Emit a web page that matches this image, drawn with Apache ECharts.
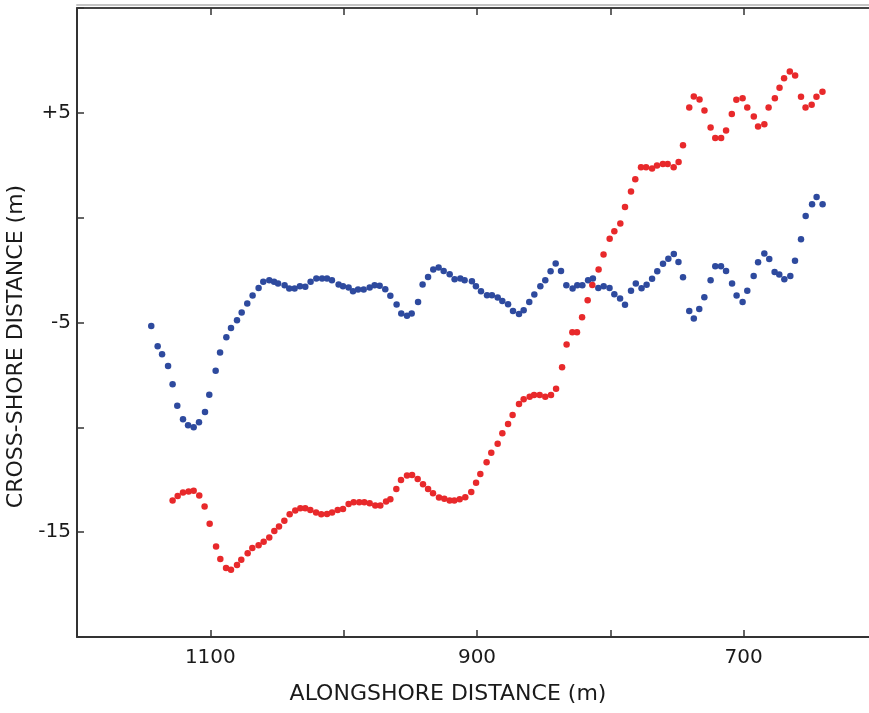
<!DOCTYPE html>
<html>
<head>
<meta charset="utf-8">
<script src="https://cdn.jsdelivr.net/npm/echarts@6/dist/echarts.min.js"></script>
<style>
html,body{margin:0;padding:0;background:#fff;}
#chart{width:869px;height:713px;}
</style>
</head>
<body>
<div id="chart"></div>
<script>
// Alongshore distance (m) and cross-shore distance (m) — blue series
const blueX = [1144.3,1139.5,1136.2,1131.7,1128.3,1124.8,1120.5,1116.7,1112.5,1108.5,1104,1100.8,1096,1092.7,1088,1084.5,1080,1076.5,1072.3,1068.3,1063.8,1060.3,1055.8,1052.2,1049.2,1044.3,1040.8,1036.8,1032.8,1028.8,1024.8,1020.5,1016.2,1012.5,1008.8,1003.8,1000.5,996.3,993,989.2,985,980.5,976.8,973,968.8,965,960.3,956.8,952.5,949,944.2,940.8,936.7,932.8,928.8,925,920.5,916.8,912.5,909.3,903.8,900.8,897,892.5,888.8,884.5,881,876.7,873,868.5,865,860.8,857,852.5,848.8,844.8,841,837,833,828.3,824.8,821,816.7,813.1,809,805,800.6,797,792.7,789,784.5,780.9,776.6,772.8,768.7,764.8,760.5,756.5,752.4,748.9,745.5,740.8,737.4,733.3,729.5,724.8,721.3,717,713.2,708.7,705.3,700.8,697.3,692.5,689.2,684.5,680.8,676.8,673.3,669.5,665,661.5,657,653.5,648.7,645.3,640.8];
const blueY = [-5.17,-6.13,-6.51,-7.08,-7.95,-8.97,-9.62,-9.90,-10.0,-9.76,-9.27,-8.45,-7.30,-6.43,-5.70,-5.26,-4.89,-4.52,-4.09,-3.71,-3.36,-3.06,-2.98,-3.06,-3.14,-3.22,-3.38,-3.38,-3.27,-3.30,-3.06,-2.90,-2.90,-2.90,-2.98,-3.19,-3.27,-3.33,-3.51,-3.43,-3.43,-3.33,-3.22,-3.25,-3.41,-3.73,-4.14,-4.57,-4.68,-4.57,-4.02,-3.19,-2.83,-2.47,-2.38,-2.54,-2.70,-2.94,-2.90,-2.98,-3.03,-3.27,-3.51,-3.70,-3.70,-3.81,-3.97,-4.13,-4.45,-4.60,-4.41,-4.02,-3.66,-3.27,-2.98,-2.55,-2.19,-2.54,-3.22,-3.38,-3.22,-3.22,-2.98,-2.90,-3.35,-3.27,-3.35,-3.65,-3.85,-4.15,-3.49,-3.14,-3.37,-3.20,-2.91,-2.56,-2.20,-1.96,-1.73,-2.11,-2.84,-4.45,-4.81,-4.36,-3.79,-2.98,-2.32,-2.32,-2.54,-3.14,-3.71,-4.02,-3.49,-2.78,-2.13,-1.71,-1.97,-2.59,-2.71,-2.94,-2.78,-2.05,-1.03,0.08,0.64,0.98,0.64];

// red series
const redX = [1128.3,1124.5,1120.5,1116.3,1112.5,1108.3,1104.3,1100.5,1095.7,1092.5,1088.2,1084.5,1080,1076.8,1072,1068.5,1063.8,1060,1055.8,1052,1048.5,1044.5,1040.5,1036.3,1032.5,1028.8,1025,1020.7,1016.8,1012.5,1008.7,1004.5,1000.5,996.3,992.5,988.3,984.5,980.5,976.3,972.5,968.2,965,960.5,957,952.5,948.7,944.5,940.5,936.7,933,928.5,924.5,920.5,917,913,908.8,904.3,900.7,897.5,892.8,889.3,884.5,881,876.7,873.3,868.5,865,860.5,857.2,853,848.8,844.5,840.7,836.2,832.8,828.5,825,821.2,817,813.5,808.8,805.1,800.5,797,792.5,789,784.5,781.3,777,773.2,768.7,765,760.6,757,752.5,748.8,745.5,740.8,737.4,733.1,729.4,724.8,721.3,716.9,713.2,708.9,705.5,700.8,697.3,692.4,689.2,684.5,681.3,676.6,673.1,669.7,665.4,661.4,657,653.6,649,645.4,640.9];
const redY = [-13.49,-13.27,-13.11,-13.06,-13.03,-13.25,-13.78,-14.60,-15.68,-16.28,-16.71,-16.79,-16.57,-16.32,-16.00,-15.76,-15.62,-15.46,-15.25,-14.95,-14.73,-14.45,-14.14,-13.97,-13.86,-13.86,-13.94,-14.06,-14.14,-14.13,-14.06,-13.94,-13.89,-13.66,-13.57,-13.57,-13.57,-13.62,-13.73,-13.73,-13.54,-13.43,-12.94,-12.51,-12.30,-12.27,-12.47,-12.71,-12.94,-13.14,-13.35,-13.41,-13.49,-13.49,-13.43,-13.33,-13.09,-12.64,-12.22,-11.67,-11.21,-10.78,-10.28,-9.84,-9.41,-8.89,-8.66,-8.54,-8.46,-8.46,-8.54,-8.46,-8.16,-7.14,-6.05,-5.46,-5.46,-4.75,-3.94,-3.21,-2.47,-1.76,-1.01,-0.65,-0.28,0.51,1.25,1.83,2.41,2.41,2.34,2.49,2.56,2.56,2.40,2.65,3.45,5.25,5.78,5.63,5.11,4.30,3.80,3.80,4.16,4.95,5.62,5.69,5.26,4.83,4.35,4.45,5.25,5.70,6.20,6.65,6.97,6.78,5.77,5.25,5.39,5.77,6.00];

// axis tick labels
const xLabelValues = [1100, 900, 700];
const yLabelValues = [-15, -5, 5];
const yLabelTexts = ['-15', '-5', '+5'];

const xTitle = 'ALONGSHORE DISTANCE (m)';
const yTitle = 'CROSS-SHORE DISTANCE (m)';

const FONT = '"DejaVu Sans", "Open Sans", sans-serif';
const TXT = '#1a1a1a';

const chart = echarts.init(document.getElementById('chart'), null, {renderer: 'canvas'});

const blueData = blueX.map((x, i) => [x, blueY[i]]);
const redData = redX.map((x, i) => [x, redY[i]]);

const xAxisCommon = {
  type: 'value', min: 600, max: 1200, interval: 100, inverse: true,
  splitLine: {show: false},
  axisTick: {show: true, inside: true, length: 7, lineStyle: {color: '#333', width: 1.5}},
};
const yAxisCommon = {
  type: 'value', min: -20, max: 10, interval: 5,
  splitLine: {show: false},
  axisTick: {show: true, inside: true, length: 7, lineStyle: {color: '#333', width: 1.5}},
};

chart.setOption({
  animation: false,
  backgroundColor: '#fff',
  grid: {left: 77, right: -8, top: 8, bottom: 76, containLabel: false, outerBoundsMode: 'none'},
  xAxis: [
    Object.assign({}, xAxisCommon, {
      position: 'bottom',
      axisLine: {show: true, onZero: false, lineStyle: {color: '#333', width: 2}},
      axisLabel: {
        show: true, margin: 11, fontSize: 20, fontFamily: FONT, color: TXT,
        formatter: v => xLabelValues.includes(v) ? String(v) : ''
      },
      name: xTitle, nameLocation: 'middle', nameGap: 46,
      nameTextStyle: {fontSize: 22, fontFamily: FONT, color: TXT, padding: [0, 58, 0, 0]}
    }),
    Object.assign({}, xAxisCommon, {
      position: 'top',
      axisLine: {show: true, onZero: false, lineStyle: {color: '#444', width: 2, shadowColor: '#c4c4c4', shadowOffsetY: -3, shadowBlur: 0}},
      axisLabel: {show: false}
    })
  ],
  yAxis: [
    Object.assign({}, yAxisCommon, {
      position: 'left',
      axisLine: {show: true, onZero: false, lineStyle: {color: '#333', width: 2}},
      axisLabel: {
        show: true, margin: 6, fontSize: 20, fontFamily: FONT, color: TXT,
        formatter: v => { const k = yLabelValues.indexOf(v); return k >= 0 ? yLabelTexts[k] : ''; }
      },
      name: yTitle, nameLocation: 'middle', nameGap: 50, nameRotate: 90,
      nameTextStyle: {fontSize: 22, fontFamily: FONT, color: TXT, padding: [0, 48, 0, 0]}
    }),
    Object.assign({}, yAxisCommon, {
      position: 'right',
      axisLine: {show: true, onZero: false, lineStyle: {color: '#333', width: 2}},
      axisLabel: {show: false}
    })
  ],
  series: [
    {
      type: 'scatter', xAxisIndex: 0, yAxisIndex: 0,
      data: blueData, symbol: 'circle', symbolSize: 6.5,
      itemStyle: {color: '#2E4A9E', opacity: 1}
    },
    {
      type: 'scatter', xAxisIndex: 0, yAxisIndex: 0,
      data: redData, symbol: 'circle', symbolSize: 6.5,
      itemStyle: {color: '#E8292B', opacity: 1}
    }
  ]
});
</script>
</body>
</html>
